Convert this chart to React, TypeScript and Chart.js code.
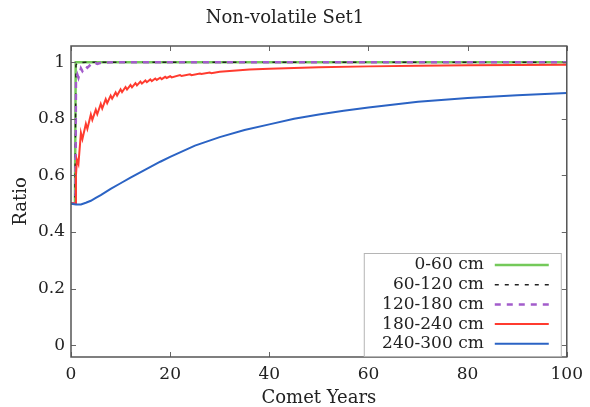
import React, { useEffect, useRef } from 'react';
import { Chart, registerables } from 'chart.js';

Chart.register(...registerables);

const TITLE = 'Non-volatile Set1';
const X_LABEL = 'Comet Years';
const Y_LABEL = 'Ratio';
const X_TICKS = [0, 20, 40, 60, 80, 100];
const Y_TICKS = [0, 0.2, 0.4, 0.6, 0.8, 1];
const SERIES_NAMES = ['0-60 cm', '60-120 cm', '120-180 cm', '180-240 cm', '240-300 cm'];

const GREEN_YEARS = [0, 0.8, 0.95, 100];
const GREEN_RATIO = [0.5, 0.5, 1.0, 1.0];

const BLACK_YEARS = [0, 0.8, 1.0, 1.5, 3, 100];
const BLACK_RATIO = [0.5, 0.5, 0.99, 0.998, 1.0, 1.0];

const PURPLE_YEARS = [0, 0.9, 1.0, 1.3, 1.5, 2.0, 2.3, 3.0, 3.3, 4.0, 4.3, 5.0, 5.3, 6.0, 7.0, 10, 100];
const PURPLE_RATIO = [0.5, 0.5, 0.93, 0.955, 0.945, 0.978, 0.968, 0.986, 0.98, 0.992, 0.988, 0.996, 0.994, 0.998, 0.999, 1.0, 1.0];

const RED_YEARS = [
  0, 0.9, 1.0, 1.2, 1.5, 2.0, 2.3, 3.0, 3.3, 4.0, 4.3, 5.0, 5.3, 6.0, 6.3, 7.0, 7.3,
  8.0, 8.3, 9.0, 9.3, 10.0, 10.3, 11.0, 11.3, 12.0, 12.3, 13.0, 13.3, 14.0, 14.3,
  15.0, 15.3, 16.0, 16.3, 17.0, 17.3, 18.0, 18.3, 19.0, 19.3, 20.0, 20.3, 22.0, 22.3,
  24.0, 24.3, 26.0, 26.3, 28.0, 28.3, 30, 32, 36, 40, 50, 60, 70, 80, 90, 100,
];
const RED_RATIO = [
  0.5, 0.5, 0.6, 0.655, 0.64, 0.75, 0.728, 0.782, 0.764, 0.815, 0.796, 0.832, 0.816, 0.852, 0.836, 0.869, 0.855,
  0.882, 0.871, 0.893, 0.882, 0.904, 0.894, 0.912, 0.903, 0.919, 0.911, 0.926, 0.918, 0.931, 0.924,
  0.935, 0.929, 0.939, 0.933, 0.942, 0.937, 0.945, 0.94, 0.948, 0.944, 0.95, 0.946, 0.954, 0.951,
  0.957, 0.954, 0.96, 0.958, 0.963, 0.961, 0.966, 0.969, 0.974, 0.977, 0.982, 0.985, 0.987, 0.989, 0.99, 0.991,
];

const BLUE_YEARS = [0, 1, 2, 3, 4, 5, 6, 8, 10, 12, 15, 18, 20, 25, 30, 35, 40, 45, 50, 55, 60, 70, 80, 90, 100];
const BLUE_RATIO = [0.5, 0.497, 0.497, 0.503, 0.51, 0.52, 0.53, 0.552, 0.572, 0.592, 0.62, 0.648, 0.665, 0.705, 0.735, 0.76, 0.78, 0.8, 0.815, 0.828, 0.84, 0.86, 0.873, 0.883, 0.891];

const FONT = "'DejaVu Serif', serif";
const TEXT_COLOR = '#222222';

const zip = (xs: number[], ys: number[]) => xs.map((x, i) => ({ x, y: ys[i] }));

const frameTicksPlugin = {
  id: 'frameTicks',
  afterDatasetsDraw(chart: any) {
    const { ctx, chartArea, scales } = chart;
    const { left, right, top, bottom } = chartArea;
    const len = 5;
    ctx.save();
    ctx.strokeStyle = '#666666';
    ctx.lineWidth = 1;
    ctx.beginPath();
    X_TICKS.forEach((v) => {
      const px = Math.round(scales.x.getPixelForValue(v)) + 0.5;
      ctx.moveTo(px, bottom);
      ctx.lineTo(px, bottom - len);
      ctx.moveTo(px, top);
      ctx.lineTo(px, top + len);
    });
    Y_TICKS.forEach((v) => {
      const py = Math.round(scales.y.getPixelForValue(v)) + 0.5;
      ctx.moveTo(left, py);
      ctx.lineTo(left + len, py);
      ctx.moveTo(right, py);
      ctx.lineTo(right - len, py);
    });
    ctx.stroke();
    ctx.strokeStyle = '#555555';
    ctx.lineWidth = 1.5;
    ctx.strokeRect(left, top, right - left, bottom - top);
    ctx.restore();
  },
};

const insideLegendPlugin = {
  id: 'insideLegend',
  afterDraw(chart: any) {
    const { ctx, chartArea } = chart;
    const boxRight = chartArea.right - 6;
    const boxBottom = chartArea.bottom - 1;
    const boxLeft = boxRight - 197;
    const boxTop = boxBottom - 103;
    ctx.save();
    ctx.fillStyle = '#ffffff';
    ctx.fillRect(boxLeft, boxTop, boxRight - boxLeft, boxBottom - boxTop);
    ctx.strokeStyle = '#b5b5b5';
    ctx.lineWidth = 1;
    ctx.strokeRect(boxLeft + 0.5, boxTop + 0.5, boxRight - boxLeft, boxBottom - boxTop);
    ctx.font = `17px ${FONT}`;
    ctx.textAlign = 'right';
    ctx.textBaseline = 'middle';
    chart.data.datasets.forEach((ds: any, i: number) => {
      const cy = boxTop + 12 + i * 19.7;
      ctx.fillStyle = TEXT_COLOR;
      ctx.fillText(ds.label, boxRight - 77, cy);
      ctx.strokeStyle = ds.borderColor;
      ctx.lineWidth = ds.borderWidth;
      ctx.setLineDash(ds.borderDash || []);
      ctx.beginPath();
      ctx.moveTo(boxRight - 66, cy);
      ctx.lineTo(boxRight - 12, cy);
      ctx.stroke();
      ctx.setLineDash([]);
    });
    ctx.restore();
  },
};

export default function App() {
  const ref = useRef<HTMLCanvasElement>(null);

  useEffect(() => {
    const canvas = ref.current;
    if (!canvas) return;
    const common = { pointRadius: 0, tension: 0, fill: false };
    const chart = new Chart(canvas, {
      type: 'line',
      data: {
        datasets: [
          { ...common, label: SERIES_NAMES[0], data: zip(GREEN_YEARS, GREEN_RATIO), borderColor: '#74c95a', borderWidth: 2.5, order: 5 },
          { ...common, label: SERIES_NAMES[1], data: zip(BLACK_YEARS, BLACK_RATIO), borderColor: '#222222', borderWidth: 1.5, borderDash: [4, 6], order: 4 },
          { ...common, label: SERIES_NAMES[2], data: zip(PURPLE_YEARS, PURPLE_RATIO), borderColor: '#a35ccb', borderWidth: 2.5, borderDash: [6, 6], order: 3 },
          { ...common, label: SERIES_NAMES[3], data: zip(RED_YEARS, RED_RATIO), borderColor: '#ff3b2f', borderWidth: 2, order: 2 },
          { ...common, label: SERIES_NAMES[4], data: zip(BLUE_YEARS, BLUE_RATIO), borderColor: '#2b63c4', borderWidth: 2, order: 1 },
        ] as any,
      },
      options: {
        responsive: false,
        animation: false,
        devicePixelRatio: 1,
        layout: { padding: { left: 0, right: 20, top: 0, bottom: 0 } },
        plugins: {
          legend: { display: false },
          tooltip: { enabled: false },
          title: {
            display: true,
            text: TITLE,
            color: TEXT_COLOR,
            font: { family: FONT, size: 18, weight: 'normal', lineHeight: 1.2 },
            padding: { top: 8, bottom: 16.4 },
          },
        },
        scales: {
          x: {
            type: 'linear',
            min: 0,
            max: 100,
            grid: { display: false, drawTicks: false },
            border: { display: false },
            afterBuildTicks: (scale: any) => { scale.ticks = X_TICKS.map((v) => ({ value: v })); },
            afterFit: (scale: any) => { scale.height = 50; },
            ticks: {
              color: TEXT_COLOR,
              font: { family: FONT, size: 17 },
              padding: 7,
              maxRotation: 0,
              callback: (v: any) => String(v),
            },
            title: {
              display: true,
              text: X_LABEL,
              color: TEXT_COLOR,
              font: { family: FONT, size: 18, lineHeight: 1.2 },
              padding: { top: 0, bottom: -2 },
            },
          },
          y: {
            type: 'linear',
            min: -0.042,
            max: 1.057,
            grid: { display: false, drawTicks: false },
            border: { display: false },
            afterBuildTicks: (scale: any) => { scale.ticks = Y_TICKS.map((v) => ({ value: v })); },
            afterFit: (scale: any) => { scale.width = 71; },
            ticks: {
              color: TEXT_COLOR,
              font: { family: FONT, size: 17 },
              padding: 6,
              callback: (v: any) => String(+Number(v).toFixed(1)),
            },
            title: {
              display: true,
              text: Y_LABEL,
              color: TEXT_COLOR,
              font: { family: FONT, size: 18, lineHeight: 1.2 },
              padding: { top: 11, bottom: 0 },
            },
          },
        },
      },
      plugins: [frameTicksPlugin, insideLegendPlugin],
    } as any);
    return () => chart.destroy();
  }, []);

  return (
    <div style={{ position: 'absolute', left: 0, top: 0, width: 590, height: 407, background: '#ffffff' }}>
      <canvas ref={ref} width={590} height={407} style={{ display: 'block', width: 590, height: 407 }} />
    </div>
  );
}
